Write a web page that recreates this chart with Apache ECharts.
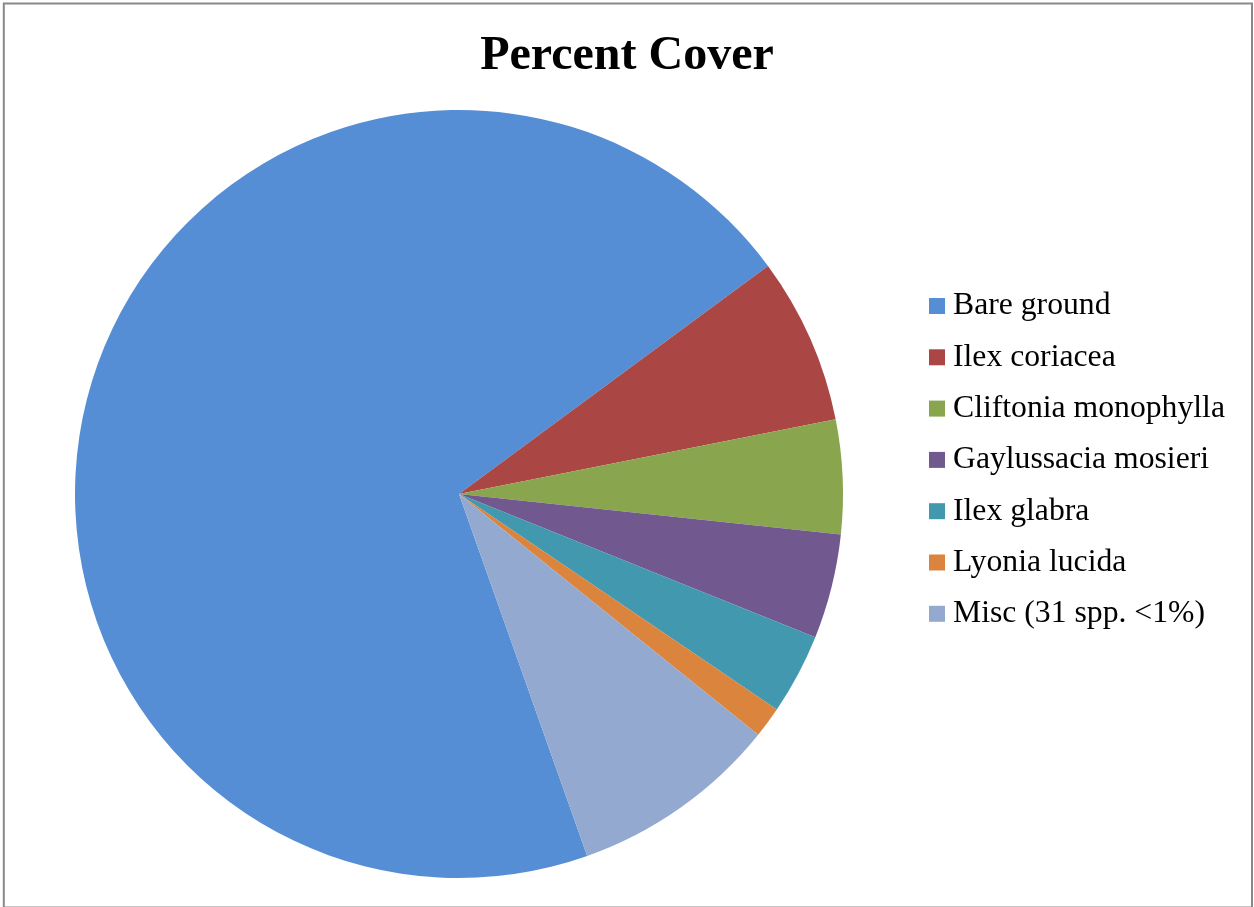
<!DOCTYPE html>
<html>
<head>
<meta charset="utf-8">
<title>Percent Cover</title>
<script src="https://cdn.jsdelivr.net/npm/echarts@6/dist/echarts.min.js"></script>
<style>
  html, body { margin: 0; padding: 0; background: #ffffff; }
  #chart { width: 1254px; height: 907px; }
</style>
</head>
<body>
<div id="chart"></div>
<script>
// Species (and bare ground) cover categories
const categories = [
  'Bare ground',
  'Ilex coriacea',
  'Cliftonia monophylla',
  'Gaylussacia mosieri',
  'Ilex glabra',
  'Lyonia lucida',
  'Misc (31 spp. <1%)'
];
// Percent cover of each category
const coverValues = [70.3, 7.0, 4.8, 4.4, 3.4, 1.3, 8.8];
// Slice colours, in category order
const sliceColors = ['#558ED5', '#AA4643', '#89A54E', '#71588F', '#4198AF', '#DB843D', '#93A9CF'];

const chart = echarts.init(document.getElementById('chart'), null, { renderer: 'canvas' });

const serif = '"Liberation Serif", "Times New Roman", Times, serif';

chart.setOption({
  animation: false,
  backgroundColor: '#ffffff',
  color: sliceColors,
  title: {
    text: 'Percent Cover',
    left: 'center',
    top: 28,
    textStyle: {
      fontFamily: serif,
      fontSize: 48,
      fontWeight: 'bold',
      color: '#000000'
    }
  },
  legend: {
    orient: 'vertical',
    left: 929,
    top: 290,
    padding: 0,
    icon: 'rect',
    itemWidth: 16,
    itemHeight: 16,
    itemGap: 19.3,
    selectedMode: false,
    data: categories,
    textStyle: {
      fontFamily: serif,
      fontSize: 31.7,
      lineHeight: 32,
      color: '#000000',
      padding: [0, 0, 0, 3]
    }
  },
  graphic: [{
    type: 'rect',
    shape: { x: 3.8, y: 3.6, width: 1248.2, height: 904 },
    style: { fill: 'none', stroke: '#898989', lineWidth: 2 },
    silent: true
  }],
  series: [{
    type: 'pie',
    center: [459, 494],
    radius: 384,
    startAngle: -70.5,
    clockwise: true,
    avoidLabelOverlap: false,
    label: { show: false },
    labelLine: { show: false },
    emphasis: { disabled: true },
    itemStyle: { borderWidth: 0 },
    data: categories.map((name, i) => ({ name: name, value: coverValues[i] }))
  }]
});
</script>
</body>
</html>
